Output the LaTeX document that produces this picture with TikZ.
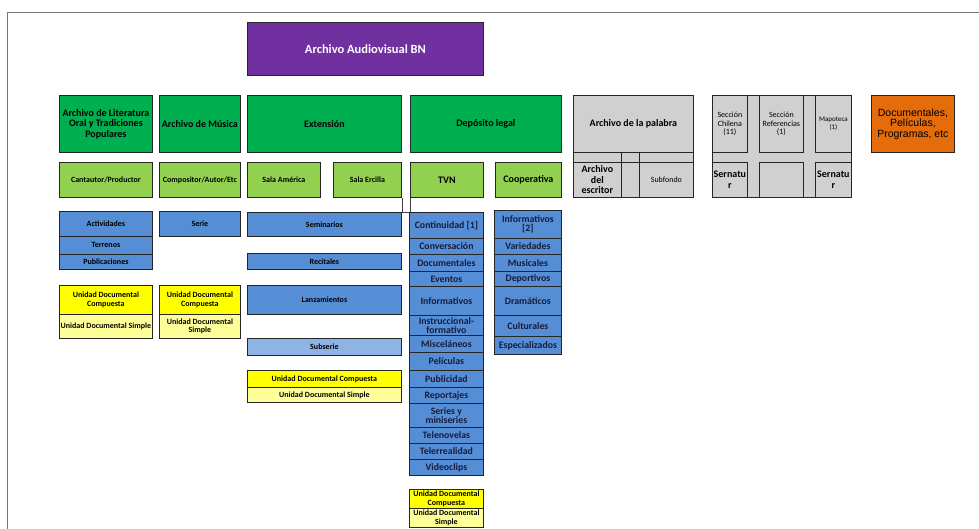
\documentclass[tikz,border=0pt]{standalone}
\usepackage{fontspec}
\setmainfont{Carlito}
\newfontfamily\arialfont{Liberation Sans}
\usepackage{tikz}

\definecolor{purpleBN}{RGB}{112,48,160}
\definecolor{greenBN}{RGB}{0,176,80}
\definecolor{lightgreenBN}{RGB}{146,208,80}
\definecolor{blueBN}{RGB}{85,142,213}
\definecolor{paleblueBN}{RGB}{142,180,227}
\definecolor{yellowBN}{RGB}{255,255,0}
\definecolor{paleyellowBN}{RGB}{255,255,153}
\definecolor{grayBN}{RGB}{208,208,208}
\definecolor{orangeBN}{RGB}{228,108,10}
\definecolor{navyBN}{RGB}{22,28,62}
\definecolor{frameBN}{RGB}{120,120,120}

\begin{document}
\begin{tikzpicture}[x=1pt,y=1pt,yscale=-1,
  cell/.style={draw=black!85, line width=0.8pt, anchor=north west, inner sep=0pt, align=center, font=\bfseries\fontsize{8}{9}\selectfont},
  titlebox/.style={cell, fill=purpleBN, text=white, font=\bfseries\fontsize{12.5}{13}\selectfont},
  greenbox/.style={cell, fill=greenBN, font=\bfseries\fontsize{10}{10.5}\selectfont},
  lightbox/.style={cell, fill=lightgreenBN},
  bluebox/.style={cell, fill=blueBN},
  tvnbox/.style={cell, fill=blueBN, text=navyBN, font=\bfseries\fontsize{9.8}{9.6}\selectfont},
  subbox/.style={cell, fill=paleblueBN},
  udcbox/.style={cell, fill=yellowBN, font=\bfseries\fontsize{8}{8.5}\selectfont},
  udsbox/.style={cell, fill=paleyellowBN, font=\bfseries\fontsize{8}{8.5}\selectfont},
  graycell/.style={cell, fill=grayBN, font=\fontsize{8}{8.5}\selectfont},
  orangebox/.style={cell, fill=orangeBN, font=\arialfont\fontsize{10.5}{10.5}\selectfont}]
\useasboundingbox (0,0) rectangle (979,529);

%Frame
\draw[frameBN, line width=1pt] (7,529) -- (7,13) -- (979,13);

%Title
\node[titlebox, minimum width=236, minimum height=53] (title) at (247,22) {Archivo Audiovisual BN};

%Row 1: fondos
\node[greenbox, minimum width=93, minimum height=57] (literatura) at (59,95) {Archivo de Literatura\\Oral y Tradiciones\\Populares};
\node[greenbox, minimum width=81, minimum height=57] (musica) at (159,95) {Archivo de Música};
\node[greenbox, minimum width=154, minimum height=57] (extension) at (247,95) {Extensión};
\node[greenbox, minimum width=151, minimum height=57] (deposito) at (410,95) {Depósito legal};

%Archivo de la palabra
\node[graycell, minimum width=120, minimum height=57, font=\bfseries\fontsize{10}{10.5}\selectfont] (palabra) at (573,95) {Archivo de la palabra};
\node[graycell, minimum width=48, minimum height=10] (palabraA) at (573,152) {};
\node[graycell, minimum width=18, minimum height=10] (palabraB) at (621,152) {};
\node[graycell, minimum width=54, minimum height=10] (palabraC) at (639,152) {};
\node[graycell, minimum width=48, minimum height=35, font=\bfseries\fontsize{10}{10.5}\selectfont] (escritor) at (573,162) {Archivo\\del\\escritor};
\node[graycell, minimum width=18, minimum height=35] (palabraD) at (621,162) {};
\node[graycell, minimum width=54, minimum height=35] (subfondo) at (639,162) {Subfondo};

%Secciones
\node[graycell, minimum width=139, minimum height=102] (secciones) at (712,95) {};
\node[graycell, minimum width=35, minimum height=57] (chilena) at (712,95) {Sección\\Chilena\\(11)};
\node[graycell, minimum width=44, minimum height=57] (referencias) at (759,95) {Sección\\Referencias\\(1)};
\node[graycell, minimum width=36, minimum height=57, font=\fontsize{7}{8}\selectfont] (mapoteca) at (815,95) {Mapoteca\\(1)};
\node[graycell, minimum width=35, minimum height=35, font=\bfseries\fontsize{10}{10.5}\selectfont] (sernaturA) at (712,162) {Sernatu\\r};
\node[graycell, minimum width=44, minimum height=35] (seccionvacia) at (759,162) {};
\node[graycell, minimum width=36, minimum height=35, font=\bfseries\fontsize{10}{10.5}\selectfont] (sernaturB) at (815,162) {Sernatu\\r};

%Documentales
\node[orangebox, minimum width=83, minimum height=57] (documentales) at (871,95) {Documentales,\\Películas,\\Programas, etc};

%Row 2: productores
\node[lightbox, minimum width=93, minimum height=35] (cantautor) at (59,162) {Cantautor/Productor};
\node[lightbox, minimum width=81, minimum height=35] (compositor) at (159,162) {Compositor/Autor/Etc};
\node[lightbox, minimum width=73, minimum height=35] (america) at (247,162) {Sala América};
\node[lightbox, minimum width=68, minimum height=35] (ercilla) at (333,162) {Sala Ercilla};
\node[lightbox, minimum width=73, minimum height=35, font=\bfseries\fontsize{10}{10.5}\selectfont] (tvn) at (410,162) {TVN};
\node[lightbox, minimum width=66, minimum height=35, font=\bfseries\fontsize{10}{10.5}\selectfont] (cooperativa) at (495,162) {Cooperativa};

\draw[black!75] (ercilla.south east) -- ++(0,14) -| (tvn.south west);

%Series: literatura
\node[bluebox, minimum width=93, minimum height=25] (actividades) at (59,211) {Actividades};
\node[bluebox, minimum width=93, minimum height=18] (terrenos) at (59,236) {Terrenos};
\node[bluebox, minimum width=93, minimum height=15] (publicaciones) at (59,254) {Publicaciones};
\node[udcbox, minimum width=93, minimum height=29] (litcompuesta) at (59,285) {Unidad Documental\\Compuesta};
\node[udsbox, minimum width=93, minimum height=24] (litsimple) at (59,314) {Unidad Documental Simple};

%Series: musica
\node[bluebox, minimum width=81, minimum height=25] (serie) at (159,211) {Serie};
\node[udcbox, minimum width=81, minimum height=29] (muscompuesta) at (159,285) {Unidad Documental\\Compuesta};
\node[udsbox, minimum width=81, minimum height=24] (mussimple) at (159,314) {Unidad Documental\\Simple};

%Series: extension
\node[bluebox, minimum width=154, minimum height=24] (seminarios) at (247,212) {Seminarios};
\node[bluebox, minimum width=154, minimum height=16] (recitales) at (247,253) {Recitales};
\node[bluebox, minimum width=154, minimum height=29] (lanzamientos) at (247,285) {Lanzamientos};
\node[subbox, minimum width=154, minimum height=17] (subserie) at (247,338) {Subserie};
\node[udcbox, minimum width=154, minimum height=17] (extcompuesta) at (247,370) {Unidad Documental Compuesta};
\node[udsbox, minimum width=154, minimum height=15] (extsimple) at (247,387) {Unidad Documental Simple};

%Series: TVN
\node[tvnbox, minimum width=74, minimum height=26] (continuidad) at (409,212) {Continuidad [1]};
\node[tvnbox, minimum width=74, minimum height=16] (conversacion) at (409,238) {Conversación};
\node[tvnbox, minimum width=74, minimum height=17] (tvndocumentales) at (409,254) {Documentales};
\node[tvnbox, minimum width=74, minimum height=15] (eventos) at (409,271) {Eventos};
\node[tvnbox, minimum width=74, minimum height=29] (tvninformativos) at (409,286) {Informativos};
\node[tvnbox, minimum width=74, minimum height=20] (instruccional) at (409,315) {Instruccional-\\formativo};
\node[tvnbox, minimum width=74, minimum height=17] (miscelaneos) at (409,335) {Misceláneos};
\node[tvnbox, minimum width=74, minimum height=18] (peliculas) at (409,352) {Películas};
\node[tvnbox, minimum width=74, minimum height=17] (publicidad) at (409,370) {Publicidad};
\node[tvnbox, minimum width=74, minimum height=16] (reportajes) at (409,387) {Reportajes};
\node[tvnbox, minimum width=74, minimum height=24] (series) at (409,403) {Series y\\miniseries};
\node[tvnbox, minimum width=74, minimum height=16] (telenovelas) at (409,427) {Telenovelas};
\node[tvnbox, minimum width=74, minimum height=16] (telerrealidad) at (409,443) {Telerrealidad};
\node[tvnbox, minimum width=74, minimum height=16] (videoclips) at (409,459) {Videoclips};
\node[udcbox, minimum width=74, minimum height=19] (tvncompuesta) at (409,489) {Unidad Documental\\Compuesta};
\node[udsbox, minimum width=74, minimum height=19] (tvnsimple) at (409,508) {Unidad Documental\\Simple};

%Series: Cooperativa
\node[tvnbox, minimum width=67, minimum height=28] (coopinformativos) at (494,210) {Informativos\\{[2]}};
\node[tvnbox, minimum width=67, minimum height=16] (variedades) at (494,238) {Variedades};
\node[tvnbox, minimum width=67, minimum height=17] (musicales) at (494,254) {Musicales};
\node[tvnbox, minimum width=67, minimum height=15] (deportivos) at (494,271) {Deportivos};
\node[tvnbox, minimum width=67, minimum height=29] (dramaticos) at (494,286) {Dramáticos};
\node[tvnbox, minimum width=67, minimum height=21] (culturales) at (494,315) {Culturales};
\node[tvnbox, minimum width=67, minimum height=18] (especializados) at (494,336) {Especializados};

\end{tikzpicture}
\end{document}
